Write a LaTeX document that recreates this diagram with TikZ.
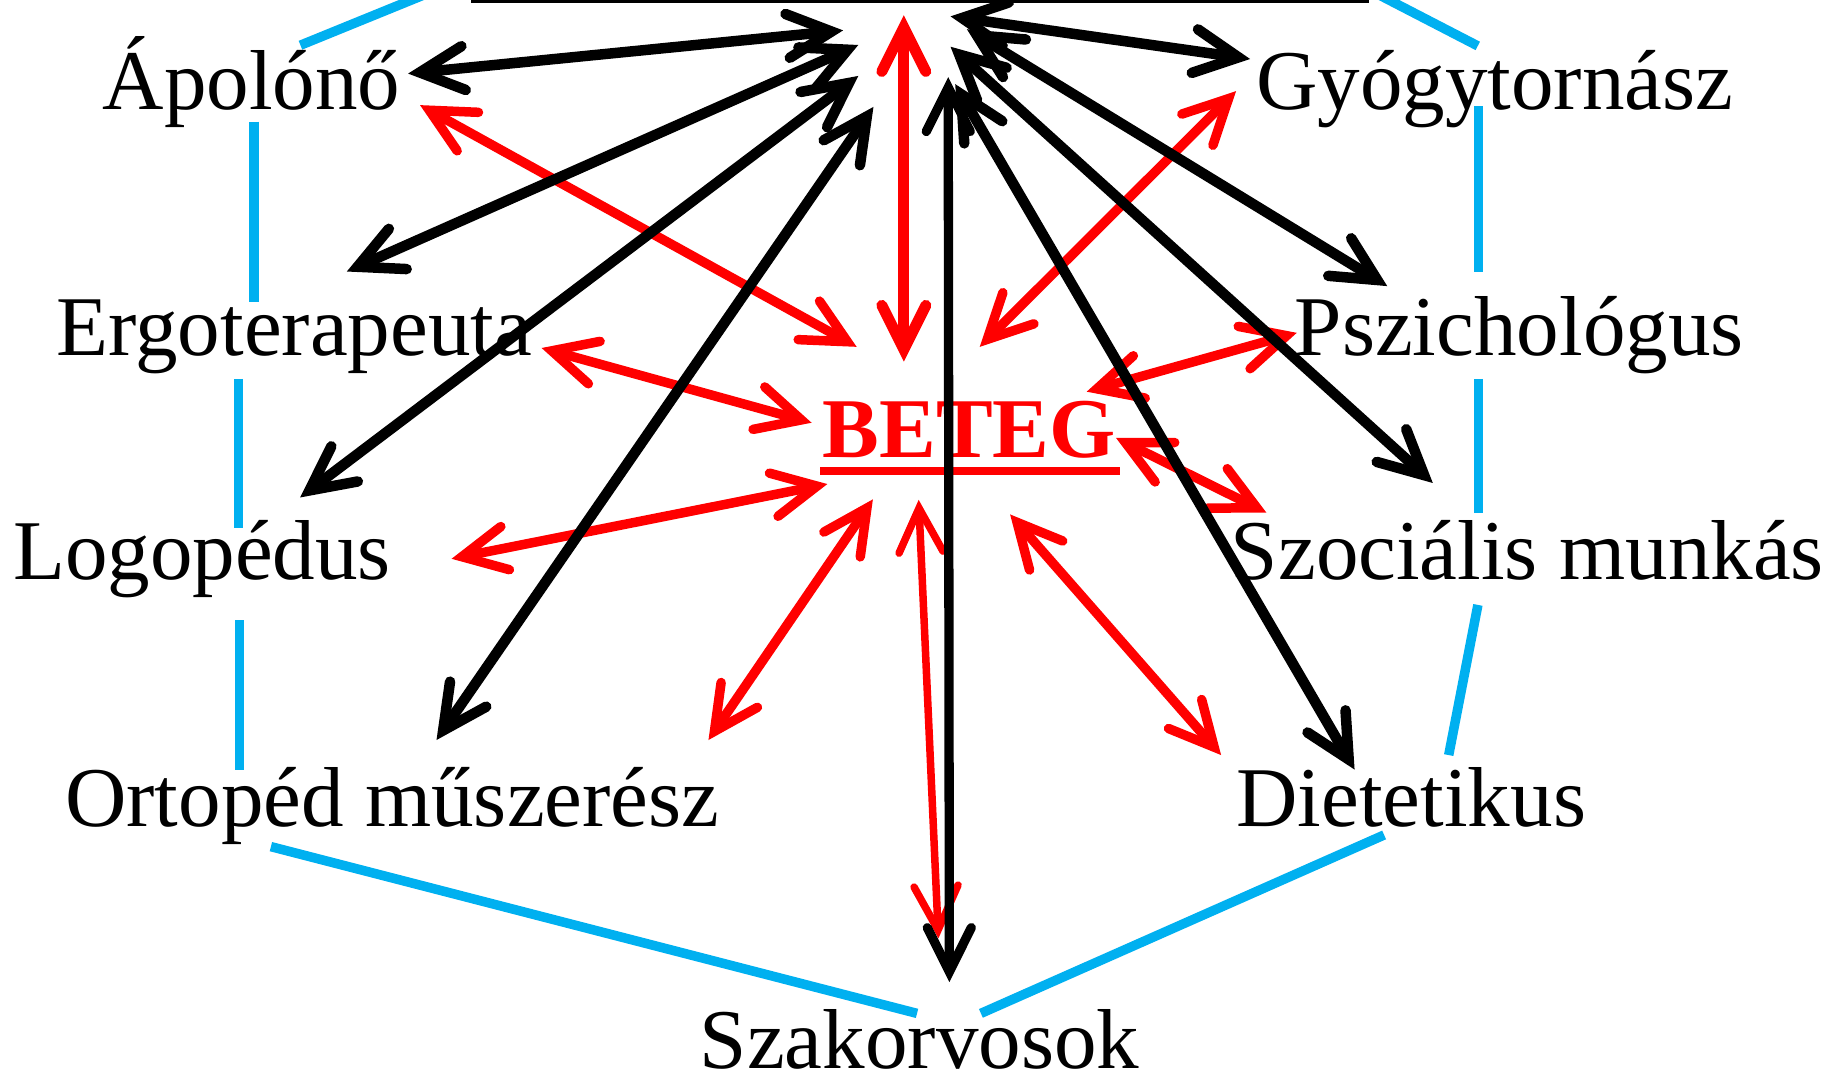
\documentclass[tikz,border=0pt]{standalone}
\usepackage{fontspec}
\setmainfont{Liberation Serif}
\usetikzlibrary{
  arrows.meta,  % Straight Barb tips
  calc          % Calculations $...$
}
\definecolor{framecol}{RGB}{0,176,240}
\def\mysize{\fontsize{24.2}{29}\selectfont}
\tikzset{
  >={Straight Barb[length=4.4mm,width=4.4mm,line cap=round,line join=miter]},
  role/.style={anchor=base,inner sep=0pt,font=\mysize},
  patient/.style={role,text=red,font=\mysize\bfseries},
  team/.style={<->,draw=black,line width=1.05mm},
  care/.style={<->,draw=red,line width=0.95mm},
  frame/.style={draw=framecol,line width=0.95mm}
}

\begin{document}
\begin{tikzpicture}[x=0.11677mm,y=-0.11677mm]
\useasboundingbox (0,0) rectangle (1568,922);

% frame
\draw[frame] (364.6,-5) -- (257.3,38.7);
\draw[frame] (217.3,104.2) -- (217.3,258.9);
\draw[frame] (204.2,324.5) -- (204.2,452.3);
\draw[frame] (205,531) -- (205,659.4);
\draw[frame] (232,725) -- (785.3,867.8);
\draw[frame] (840,867.8) -- (1185.3,715);
\draw[frame] (1265.6,518) -- (1240.6,646.6);
\draw[frame] (1266,324.5) -- (1266,439);
\draw[frame] (1266,91) -- (1266,233);
\draw[frame] (1265.5,39.3) -- (1179.8,-5);
\draw[line width=0.55mm] (403,0) -- (1172,0);

% roles
\node[role] (apolo)  at (215.5,94)   {Ápolónő};
\node[role] (gyogy)  at (1280,94)    {Gyógytornász};
\node[role] (ergo)   at (252,304)    {Ergoterapeuta};
\node[role] (pszich) at (1301,304)   {Pszichológus};
\node[role] (logo)   at (173,496.5)  {Logopédus};
\node[role] (szoc)   at (1308,496.5) {Szociális munkás};
\node[role] (orto)   at (336,707.5)  {Ortopéd műszerész};
\node[role] (diet)   at (1208.5,707.5) {Dietetikus};
\node[role] (szak)   at (787.5,915)  {Szakorvosok};
\node[patient] (beteg) at (830,391.6) {BETEG};
\draw[red,line width=0.84mm] ([yshift=-1.35mm,xshift=-0.15mm]beteg.base west)
  -- ([yshift=-1.35mm,xshift=0.4mm]beteg.base east);

% link ends
\coordinate (hub-b) at (774,13);
\coordinate (beteg-t) at (774,309.7);
\coordinate (apolo-p) at (359.7,90);    \coordinate (beteg-a) at (733.6,297);
\coordinate (gyogy-p) at (1058.5,78);   \coordinate (beteg-g) at (839,297);
\coordinate (ergo-p) at (463.8,298);    \coordinate (beteg-e) at (695,362);
\coordinate (pszich-p) at (1110.5,285); \coordinate (beteg-p) at (930.6,335.4);
\coordinate (logo-p) at (386.7,478.5);  \coordinate (beteg-l) at (708.5,414.5);
\coordinate (szoc-p) at (1084.5,439);   \coordinate (beteg-s) at (955.7,375);
\coordinate (orto-p) at (606.7,633.7);  \coordinate (beteg-o) at (747.5,427.6);
\coordinate (diet-p) at (1045.7,646.6); \coordinate (beteg-d) at (865,440.5);
\coordinate (szak-p) at (803.6,803.6);  \coordinate (beteg-sz) at (786.7,428);

\coordinate (hub-a) at (722,26);   \coordinate (apolo-k) at (349.5,63);
\coordinate (hub-e) at (735,38.5); \coordinate (ergo-k) at (297,232.5);
\coordinate (hub-l) at (735,65);   \coordinate (logo-k) at (257,426);
\coordinate (hub-o) at (748,91.5); \coordinate (orto-k) at (373.8,633.7);
\coordinate (hub-g) at (814,14);   \coordinate (gyogy-k) at (1070.5,50.5);
\coordinate (hub-p) at (828,25);   \coordinate (pszich-k) at (1188,245);
\coordinate (hub-s) at (814,40);   \coordinate (szoc-k) at (1227,413.6);
\coordinate (hub-sz) at (812,66);  \coordinate (szak-k) at (813,841);
\coordinate (hub-d) at (818,72);   \coordinate (diet-k) at (1160,659);

% patient links
\draw[care,line width=1.1mm] (hub-b) -- (beteg-t);
\draw[care,line width=0.75mm] (beteg-sz) -- (szak-p);
\foreach \r/\b in {apolo/a,gyogy/g,ergo/e,pszich/p,logo/l,szoc/s,orto/o,diet/d}
  \draw[care] (\r-p) -- (beteg-\b);

% team links
\foreach \r/\h in {apolo/a,ergo/e,logo/l,orto/o,gyogy/g,pszich/p,szoc/s,diet/d}
  \draw[team] (hub-\h) -- (\r-k);
\draw[team,line width=0.93mm] (hub-sz) -- (szak-k);
\end{tikzpicture}
\end{document}
